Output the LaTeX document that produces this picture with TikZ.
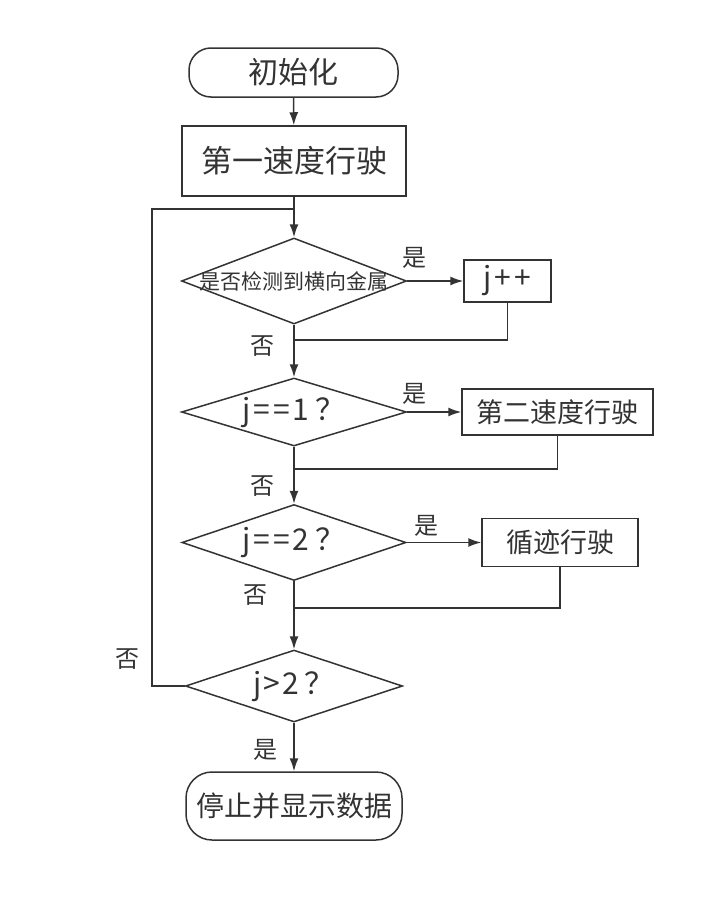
\documentclass[tikz,border=0pt]{standalone}
\usepackage{fontspec}
\setmainfont{Noto Sans CJK SC}
\usetikzlibrary{shapes.geometric,arrows.meta}
\definecolor{ink}{HTML}{333333}
\newcommand{\fsz}[1]{\fontsize{#1pt}{#1pt}\selectfont}

\begin{document}
\begin{tikzpicture}[x=1pt, y=-1pt, color=ink, line width=1.5pt,
  >={Latex[length=13pt,width=9pt]},
  term/.style={draw, rectangle, inner sep=0pt},
  proc/.style={draw, rectangle, inner sep=0pt},
  decide/.style={draw, diamond, inner sep=0pt},
  lbl/.style={font=\fsz{24}}]

\useasboundingbox (0,0) rectangle (714,902);

\node[term, rounded corners=22pt, minimum width=209pt, minimum height=49pt, font=\fsz{30}] (init) at (293.5,72.5) {初始化};
\node[proc, minimum width=224pt, minimum height=70pt, font=\fsz{31}] (run1) at (294,161) {第一速度行驶};

\node[decide, minimum width=225pt, minimum height=86pt, font=\fsz{21}] (det) at (294,281) {\makebox[0pt]{是否检测到横向金属}};
\node[proc, minimum width=87pt, minimum height=42pt, font=\fsz{30}] (inc) at (507.5,281) {j\hspace{3pt}+\hspace{3pt}+};

\node[decide, minimum width=225pt, minimum height=68pt, font=\fsz{30}] (eq1) at (294,412) {\makebox[0pt]{j\hspace{3pt}=\hspace{3pt}=\hspace{3pt}1\hspace{6pt}？}};
\node[proc, minimum width=191pt, minimum height=46pt, font=\fsz{27}] (run2) at (557.5,412) {第二速度行驶};

\node[decide, minimum width=224pt, minimum height=76pt, font=\fsz{30}] (eq2) at (294,542.5) {\makebox[0pt]{j\hspace{3pt}=\hspace{3pt}=\hspace{3pt}2\hspace{6pt}？}};
\node[proc, minimum width=156pt, minimum height=48pt, font=\fsz{27}] (run3) at (560,542.5) {循迹行驶};

\node[decide, minimum width=217pt, minimum height=72pt, font=\fsz{30}] (chk) at (294,686) {\makebox[0pt]{j\hspace{2pt}>\hspace{2pt}2\hspace{6pt}？}};
\node[term, rounded corners=26pt, minimum width=216pt, minimum height=68pt, font=\fsz{28}] (stop) at (294,806) {停止并显示数据};

\coordinate (back) at (152,209);
\coordinate (m1) at (294,340);
\coordinate (m2) at (294,469);
\coordinate (m3) at (294,608);

\draw[->] (init) -- (run1);
\draw[->] (run1) -- (det);
\draw (chk.west) -| (back) -- (back -| run1.south);

\draw[->] (det.east) -- (inc.west);
\draw (inc.south) |- (m1);
\draw[->] (det.south) -- (eq1.north);

\draw[->] (eq1.east) -- (run2.west);
\draw (run2.south) |- (m2);
\draw[->] (eq1.south) -- (eq2.north);

\draw[->] (eq2.east) -- (run3.west);
\draw (run3.south) |- (m3);
\draw[->] (eq2.south) -- (chk.north);

\draw[->] (chk.south) -- (stop.north);

\node[lbl] (y1) at (414,258) {是};
\node[lbl] (n1) at (262,346) {否};
\node[lbl] (y2) at (414,394) {是};
\node[lbl] (n2) at (262,486) {否};
\node[lbl] (y3) at (426,526) {是};
\node[lbl] (n3) at (255,595) {否};
\node[lbl] (n4) at (127,659) {否};
\node[lbl] (y4) at (265,750) {是};

\end{tikzpicture}
\end{document}
